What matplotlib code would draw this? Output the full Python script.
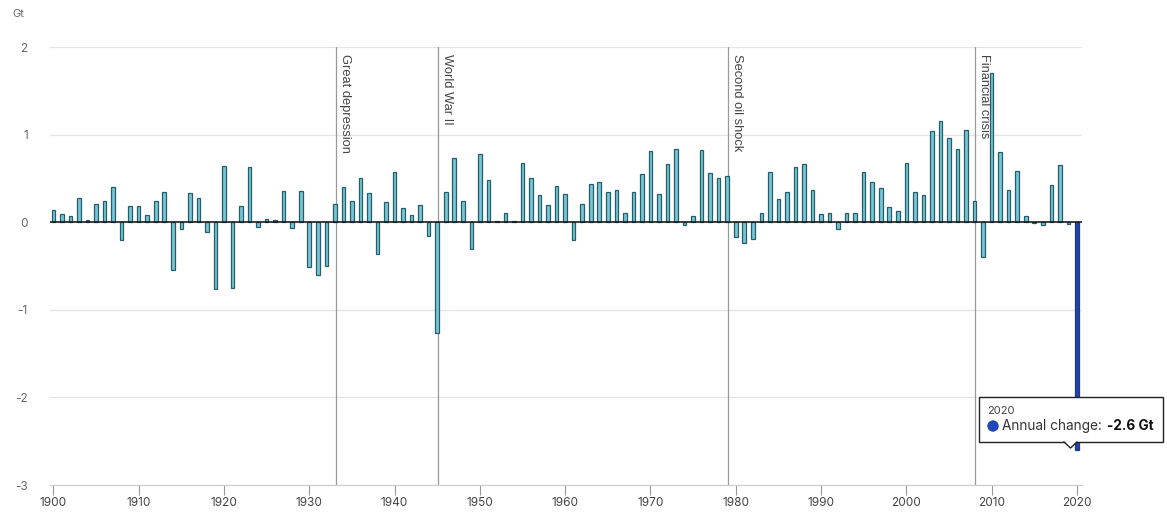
import matplotlib
matplotlib.use("Agg")
import matplotlib.pyplot as plt
from matplotlib.patches import Rectangle, Polygon, Circle
import numpy as np

years = list(range(1900, 2021))
annual_change = [
    0.14, 0.09, 0.07, 0.28, 0.02, 0.21, 0.24, 0.40, -0.20, 0.19,   # 1900-1909
    0.18, 0.08, 0.24, 0.35, -0.54, -0.08, 0.33, 0.28, -0.11, -0.76,  # 1910-1919
    0.64, -0.75, 0.19, 0.63, -0.06, 0.04, 0.03, 0.36, -0.07, 0.36,   # 1920-1929
    -0.51, -0.60, -0.50, 0.21, 0.40, 0.24, 0.50, 0.33, -0.36, 0.23,  # 1930-1939
    0.57, 0.16, 0.08, 0.20, -0.16, -1.27, 0.35, 0.73, 0.24, -0.31,   # 1940-1949
    0.78, 0.48, 0.01, 0.11, 0.01, 0.68, 0.50, 0.31, 0.20, 0.41,      # 1950-1959
    0.32, -0.20, 0.21, 0.44, 0.46, 0.35, 0.37, 0.10, 0.34, 0.55,     # 1960-1969
    0.81, 0.32, 0.67, 0.84, -0.03, 0.07, 0.82, 0.56, 0.50, 0.53,     # 1970-1979
    -0.17, -0.24, -0.19, 0.11, 0.57, 0.27, 0.34, 0.63, 0.67, 0.37,   # 1980-1989
    0.09, 0.11, -0.08, 0.11, 0.10, 0.57, 0.46, 0.39, 0.17, 0.13,     # 1990-1999
    0.68, 0.34, 0.31, 1.04, 1.16, 0.96, 0.84, 1.05, 0.24, -0.40,     # 2000-2009
    1.70, 0.80, 0.37, 0.58, 0.07, -0.01, -0.03, 0.42, 0.65, -0.02,   # 2010-2019
    -2.60,                                                           # 2020
]
events = [(1933, "Great depression"), (1945, "World War II"),
          (1979, "Second oil shock"), (2008, "Financial crisis")]
y_ticks = [-3, -2, -1, 0, 1, 2]
x_ticks = list(range(1900, 2021, 10))

W, H = 1167, 520
fig = plt.figure(figsize=(W / 100, H / 100), dpi=100)
ax = fig.add_axes([50 / W, 1 - 485 / H, (1082 - 50) / W, (485 - 47) / H])

font = "Inter"
colors = ["#2244a8" if y == 2020 else "#78c6d4" for y in years]
edges = ["#1d3a8c" if y == 2020 else "#245e6b" for y in years]
ax.bar(years, annual_change, width=0.42, color=colors, edgecolor=edges,
       linewidth=0.9, zorder=3)

ax.set_xlim(1899.6, 2020.6)
ax.set_ylim(-3, 2)
ax.set_yticks(y_ticks)
ax.set_yticklabels([str(t) for t in y_ticks], fontsize=8.5, color="#666666",
                   family=font)
ax.set_xticks(x_ticks)
ax.set_xticklabels([str(t) for t in x_ticks], fontsize=8.5, color="#444444",
                   family=font)
ax.tick_params(axis="y", length=0, pad=16)
ax.tick_params(axis="x", length=7, color="#999999", width=0.8, pad=2)
ax.grid(axis="y", color="#e4e4e4", linewidth=0.9, zorder=0)
for s in ["top", "right", "left"]:
    ax.spines[s].set_visible(False)
ax.spines["bottom"].set_color("#cccccc")
ax.axhline(0, color="#111111", linewidth=1.1, zorder=4)

for yr, label in events:
    ax.axvline(yr + 0.1, color="#999999", linewidth=0.9, zorder=2)
    ax.text(yr + 0.45, 1.92, label, rotation=-90, va="top", ha="left",
            fontsize=9.3, color="#444444", family="Liberation Sans", zorder=5)

fig.text(12 / W, 1 - 14 / H, "Gt", fontsize=8, color="#666666", family=font,
         va="center", ha="left")

# Tooltip
bx0, bx1, by0, by1 = 979, 1163, 397, 442
def fx(px): return px / W
def fy(py): return 1 - py / H
box = Rectangle((fx(bx0), fy(by1)), fx(bx1) - fx(bx0), fy(by0) - fy(by1),
                transform=fig.transFigure, facecolor="white",
                edgecolor="#222222", linewidth=1.0, zorder=10)
fig.patches.append(box)
tri = Polygon([(fx(1064), fy(by1) + 0.0015), (fx(1077), fy(by1) + 0.0015),
               (fx(1070.5), fy(448))], closed=True, transform=fig.transFigure,
              facecolor="white", edgecolor="none", zorder=11)
fig.patches.append(tri)
tri_edge = plt.Line2D([fx(1064), fx(1070.5), fx(1077)],
                      [fy(by1), fy(448), fy(by1)], transform=fig.transFigure,
                      color="#222222", linewidth=1.0, zorder=12)
fig.lines.append(tri_edge)
fig.text(fx(987), fy(411), "2020", fontsize=8, color="#444444", family=font,
         va="center", ha="left", zorder=13)
circ = Circle((993 / 100, (H - 426) / 100), 5.2 / 100,
              transform=fig.dpi_scale_trans,
              facecolor="#1f49c4", edgecolor="#1a3a9a", linewidth=0.6, zorder=13)
fig.patches.append(circ)
t1 = fig.text(fx(1002), fy(426), "Annual change:", fontsize=9.8,
              color="#333333", family=font, va="center", ha="left", zorder=13)
fig.canvas.draw()
ext = t1.get_window_extent(renderer=fig.canvas.get_renderer())
fig.text((ext.x1 + 5) / W, fy(426), "-2.6 Gt", fontsize=9.8, color="#111111",
         family=font, weight="bold", va="center", ha="left", zorder=13)

fig.savefig("out.png", dpi=100, facecolor="white")
